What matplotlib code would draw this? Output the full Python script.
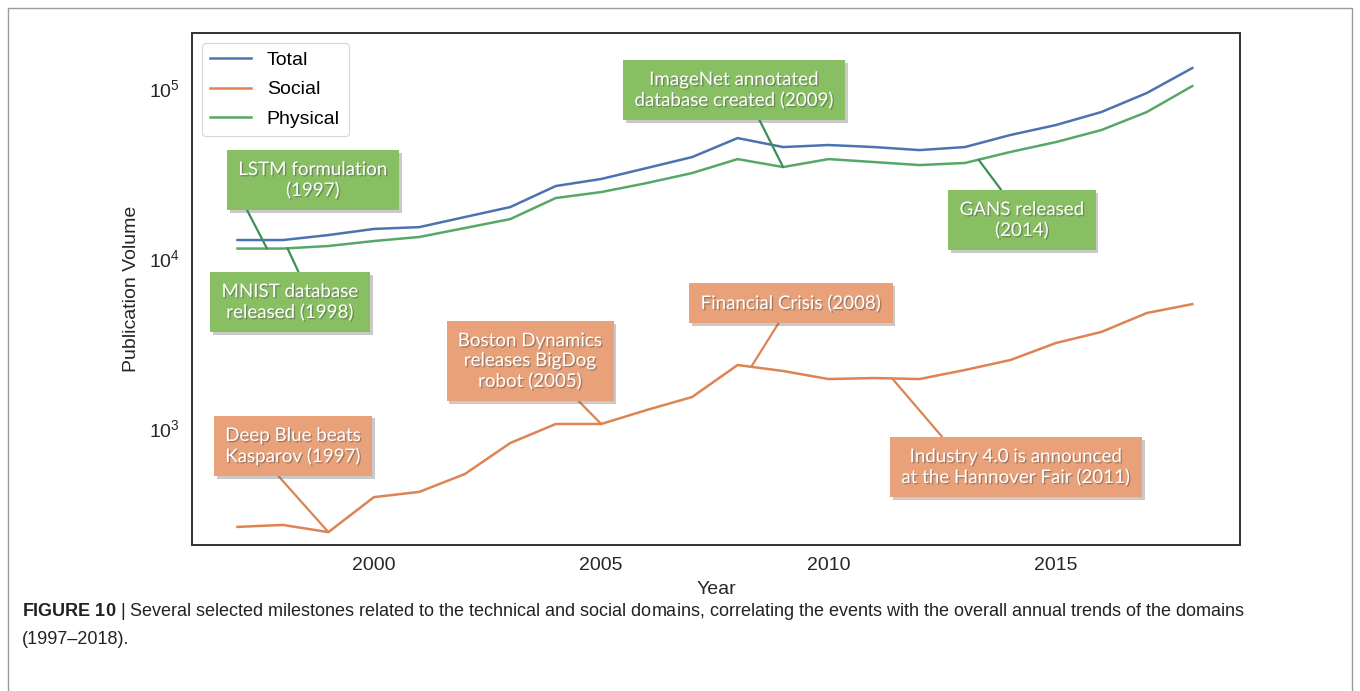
import numpy as np
import matplotlib
matplotlib.use("Agg")
import matplotlib.pyplot as plt
import matplotlib.patheffects as pe
from matplotlib.patches import Rectangle
from matplotlib.ticker import NullFormatter, FixedLocator

# publication counts per year
years = list(range(1997, 2019))
total = [12760, 12760, 13650, 14830, 15200, 17420, 19950, 26520, 29180, 33830, 39260,
         50780, 44970, 46220, 44970, 43150, 44970, 52950, 60580, 72260, 93480, 131100]
social = [262, 269, 244, 392, 421, 536, 816, 1056, 1056, 1276, 1522,
          2348, 2165, 1941, 1968, 1941, 2194, 2512, 3162, 3673, 4748, 5357]
physical = [11370, 11370, 11770, 12590, 13300, 15010, 16950, 22540, 24440, 27600, 31620,
            38200, 34300, 38200, 36700, 35230, 36240, 42070, 48100, 56600, 72260, 102700]

# milestones: label, series it points at, year the pointer lands on
ms_labels = ["LSTM formulation\n(1997)",
             "MNIST database\nreleased (1998)",
             "ImageNet annotated\ndatabase created (2009)",
             "GANS released\n(2014)",
             "Deep Blue beats\nKasparov (1997)",
             "Boston Dynamics\nreleases BigDog\nrobot (2005)",
             "Financial Crisis (2008)",
             "Industry 4.0 is announced\nat the Hannover Fair (2011)"]
ms_series = ["physical", "physical", "physical", "physical",
             "social", "social", "social", "social"]
ms_year = [1997.65, 1998.1, 2009, 2013.3, 1999, 2005, 2008.3, 2011.4]

caption_1 = (r"$\mathbf{FIGURE\ 10}$ | Several selected milestones related to the technical and "
             "social domains, correlating the events with the overall annual trends of the domains")
caption_2 = "(1997\u20132018)."

plt.rcParams["font.family"] = ["Liberation Sans", "DejaVu Sans"]
plt.rcParams["mathtext.fontset"] = "custom"
plt.rcParams["mathtext.rm"] = "Liberation Sans"
plt.rcParams["mathtext.bf"] = "Liberation Sans:bold"
plt.rcParams["mathtext.it"] = "Liberation Sans:italic"

c_total, c_social, c_phys = "#4c72b0", "#dd8452", "#55a868"
box_col = {"physical": "#88bf63", "social": "#e9a17a"}
line_col = {"physical": "#3d8f58", "social": "#d98552"}
series = {"physical": physical, "social": social}

fig = plt.figure(figsize=(13.6, 6.91), dpi=100)
W, H = 1360, 691

# outer frame of the figure panel
fig.patches.append(Rectangle((8 / W, -0.05), 1344 / W, 1.05 - 8 / H, transform=fig.transFigure,
                             fill=False, edgecolor="#9a9a9a", linewidth=1.0))

ax = fig.add_axes([192 / W, 1 - 545 / H, 1048 / W, 512 / H])
ax.plot(years, total, color=c_total, lw=1.8, label="Total")
ax.plot(years, social, color=c_social, lw=1.8, label="Social")
ax.plot(years, physical, color=c_phys, lw=1.8, label="Physical")

ax.set_yscale("log")
ax.set_xlim(1996, 2019.05)
ax.set_ylim(205, 210800)
ax.xaxis.set_major_locator(FixedLocator([2000, 2005, 2010, 2015]))
ax.yaxis.set_minor_formatter(NullFormatter())
ax.tick_params(which="both", length=0, labelsize=14, colors="#262626", pad=9)
for s in ax.spines.values():
    s.set_color("#333333")
    s.set_linewidth(1.4)

ax.set_xlabel("Year", fontsize=14, color="#262626", labelpad=5)
ax.set_ylabel("Publication Volume", fontsize=14, color="#262626", labelpad=6)

leg = ax.legend(loc="upper left", fontsize=14, labelspacing=0.6, borderpad=0.45,
                handlelength=2.1, handletextpad=0.8, fancybox=True,
                bbox_to_anchor=(0.0, 1.0), borderaxespad=0.5)
leg.get_frame().set_edgecolor("#cccccc")
leg.get_frame().set_linewidth(0.8)

# box centres in pixels of the reference image, and where the pointer leaves the text
box_px = [(313, 180), (290, 302), (734, 90), (1022, 220),
          (293, 446), (530, 361), (791, 303), (1016, 467)]
rel = [(0.02, 0), (0.6, 1), (0.6, 0), (0.4, 1),
       (0.32, 0), (0.76, 0), (0.47, 0), (0.22, 1)]

for lab, key, yr, (bx, by), rp in zip(ms_labels, ms_series, ms_year, box_px, rel):
    vals = series[key]
    yv = 10 ** np.interp(yr, years, np.log10(vals))
    ann = ax.annotate(lab, xy=(yr, yv), xytext=((bx - 192) / 1048, (545 - by) / 512),
                      textcoords="axes fraction", ha="center", va="center",
                      fontsize=13.5, family=["Lato", "DejaVu Sans"], color="white",
                      linespacing=1.2,
                      bbox=dict(boxstyle="square,pad=0.6", fc=box_col[key], ec="none"),
                      arrowprops=dict(arrowstyle="-", color=line_col[key], lw=1.6,
                                      shrinkA=0, shrinkB=0, relpos=rp),
                      path_effects=[pe.withSimplePatchShadow(offset=(1, -1),
                                                             shadow_rgbFace="0.3", alpha=0.45)])
    ann.get_bbox_patch().set_path_effects([pe.withSimplePatchShadow(offset=(2, -2),
                                                                    shadow_rgbFace="0.4",
                                                                    alpha=0.35)])

fig.text(22 / W, 1 - 612 / H, caption_1, fontsize=13, color="#222222", va="center")
fig.text(22 / W, 1 - 640 / H, caption_2, fontsize=13, color="#222222", va="center")

fig.savefig("out.png", dpi=100)
